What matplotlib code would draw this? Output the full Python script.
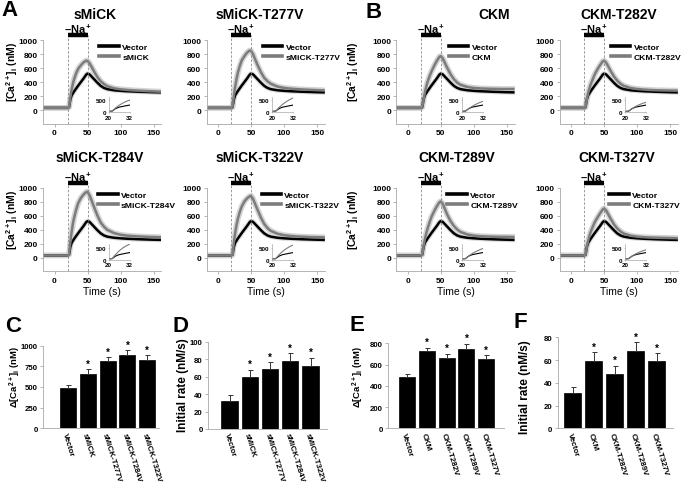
import numpy as np
import matplotlib
matplotlib.use("Agg")
import matplotlib.pyplot as plt

plt.rcParams['font.family'] = ['Liberation Sans', 'DejaVu Sans']
plt.rcParams['font.weight'] = 'bold'
plt.rcParams['mathtext.fontset'] = 'custom'
plt.rcParams['mathtext.rm'] = 'Liberation Sans:bold'
plt.rcParams['mathtext.bf'] = 'Liberation Sans:bold'
plt.rcParams['mathtext.it'] = 'Liberation Sans:bold'
plt.rcParams['mathtext.default'] = 'bf'

# ---- time courses (nM) ----
time = [-15, 0, 10, 20, 22, 24, 26, 28, 30, 33, 36, 40, 44, 48, 50, 53, 56, 60,
        65, 70, 75, 80, 90, 100, 110, 120, 130, 140, 150, 160]
vector = [30, 30, 30, 30, 40, 150, 210, 240, 270, 310, 350, 400, 450, 505, 520, 510,
          480, 440, 390, 345, 315, 298, 282, 274, 268, 264, 260, 257, 254, 252]
smick = [30, 30, 30, 30, 40, 180, 290, 380, 450, 530, 590, 640, 680, 705, 700, 670,
         620, 550, 470, 410, 370, 340, 310, 295, 287, 280, 275, 270, 266, 262]
smick_t277v = [30, 30, 30, 30, 40, 200, 330, 440, 530, 630, 710, 770, 820, 850, 845, 800,
               730, 640, 540, 460, 410, 375, 335, 315, 305, 298, 292, 288, 284, 280]
smick_t284v = [30, 30, 30, 30, 40, 220, 370, 490, 580, 690, 780, 850, 900, 935, 940, 890,
               820, 720, 600, 500, 440, 395, 350, 325, 312, 305, 300, 295, 292, 290]
smick_t322v = [30, 30, 30, 30, 40, 210, 350, 460, 550, 650, 730, 800, 845, 875, 880, 840,
               770, 680, 570, 480, 420, 380, 340, 318, 308, 300, 296, 292, 290, 288]
ckm = [30, 30, 30, 30, 40, 150, 250, 330, 400, 480, 550, 630, 700, 760, 770, 740,
       680, 600, 510, 440, 390, 360, 330, 315, 308, 304, 302, 300, 300, 300]
ckm_t282v = [30, 30, 30, 30, 40, 150, 240, 310, 370, 440, 510, 580, 640, 695, 705, 680,
             630, 560, 480, 420, 375, 345, 315, 300, 292, 286, 282, 280, 278, 276]
ckm_t289v = [30, 30, 30, 30, 40, 160, 260, 340, 410, 500, 580, 660, 730, 790, 800, 770,
             700, 610, 520, 450, 400, 365, 330, 312, 304, 300, 297, 295, 294, 293]
ckm_t327v = [30, 30, 30, 30, 40, 150, 240, 310, 370, 440, 505, 570, 630, 685, 700, 675,
             625, 555, 475, 415, 372, 342, 312, 298, 290, 285, 282, 280, 278, 276]
stim_on, stim_off = 20, 50

# ---- bar charts ----
smick_labels = ['Vector', 'sMiCK', 'sMiCK-T277V', 'sMiCK-T284V', 'sMiCK-T322V']
c_vals = [490, 660, 810, 890, 830]
c_err = [40, 55, 50, 55, 55]
d_vals = [32, 59, 68.5, 78, 72.5]
d_err = [7.5, 9, 8, 9, 9]
ckm_labels = ['Vector', 'CKM', 'CKM-T282V', 'CKM-T289V', 'CKM-T327V']
e_vals = [480, 728, 662, 748, 652]
e_err = [28, 30, 38, 48, 35]
f_vals = [31, 59, 47.8, 68.3, 59]
f_err = [5, 8, 7, 7.5, 7]

W, H = 685, 489
fig = plt.figure(figsize=(W / 100, H / 100), dpi=100)
GRAY_SPINE = '#a8a8a8'


def add_axes_px(x0, y0, sx, sy, xlim, ylim):
    left = x0 + xlim[0] * sx
    right = x0 + xlim[1] * sx
    bottom = y0 - ylim[0] * sy
    top = y0 - ylim[1] * sy
    ax = fig.add_axes([left / W, 1 - bottom / H, (right - left) / W, (bottom - top) / H])
    ax.set_xlim(xlim)
    ax.set_ylim(ylim)
    for s in ['top', 'right']:
        ax.spines[s].set_visible(False)
    for s in ['left', 'bottom']:
        ax.spines[s].set_color(GRAY_SPINE)
        ax.spines[s].set_linewidth(0.6)
    ax.patch.set_alpha(0)
    return ax


def ftext(x, y, s, **kw):
    return fig.text(x / W, 1 - y / H, s, **kw)


def curve_panel(x0, y0, name, values, show_xlabel, leg_x):
    ax = add_axes_px(x0, y0, 0.66, 0.07, (-17, 162), (-195, 1000))
    ax.plot(time, vector, color='#d8d8d8', lw=3.4)
    ax.plot(time, values, color='#d4d4d4', lw=4.2)
    ax.plot(time, vector, color='black', lw=1.8, label='Vector')
    ax.plot(time, values, color='#7c7c7c', lw=1.8, label=name)
    for t in (stim_on, stim_off):
        ax.plot([t, t], [-195, 1065], ls=(0, (3, 2)), color='#8a8a8a', lw=0.6, clip_on=False)
    ax.plot([stim_on, stim_off], [1070, 1070], color='black', lw=3.2,
            solid_capstyle='butt', clip_on=False)
    ax.text((stim_on + stim_off) / 2, 1100, '\u2013Na$^+$', ha='center', va='baseline',
            fontsize=8, clip_on=False)
    ax.set_xticks([0, 50, 100, 150])
    ax.set_yticks(range(0, 1001, 200))
    ax.tick_params(length=2, width=0.5, color='#999999', labelsize=6, pad=2)
    leg = ax.legend(loc='upper left', bbox_to_anchor=(leg_x, 950), bbox_transform=ax.transData,
                    frameon=False, fontsize=6.1, handlelength=2.3, handletextpad=0.4,
                    labelspacing=0.2, borderpad=0, borderaxespad=0)
    for h in leg.get_lines():
        h.set_linewidth(2.6)
    if show_xlabel:
        ax.set_xlabel('Time (s)', fontsize=7.5, labelpad=2)
    # inset: initial rise
    ins = ax.inset_axes([82, -30, 32, 220], transform=ax.transData)
    ins.plot(time, vector, color='black', lw=0.8)
    ins.plot(time, values, color='#7c7c7c', lw=0.8)
    ins.set_xlim(20, 32)
    ins.set_ylim(0, 650)
    ins.set_xticks([20, 32])
    ins.set_yticks([0, 500])
    ins.tick_params(length=1, width=0.4, color='#999999', labelsize=4.5, pad=1)
    for s in ['top', 'right']:
        ins.spines[s].set_visible(False)
    for s in ['left', 'bottom']:
        ins.spines[s].set_color(GRAY_SPINE)
        ins.spines[s].set_linewidth(0.5)
    ins.patch.set_alpha(0)
    return ax


curve_specs = [
    (54.5, 111, 'sMiCK', smick, (95, 15), False, 68),
    (218.0, 111, 'sMiCK-T277V', smick_t277v, (260, 15), False, 68),
    (407.7, 111, 'CKM', ckm, (494, 15), False, 62),
    (571.0, 111, 'CKM-T282V', ckm_t282v, (619, 15), False, 60),
    (54.5, 258.5, 'sMiCK-T284V', smick_t284v, (100, 158), True, 66),
    (218.0, 258.5, 'sMiCK-T322V', smick_t322v, (260, 158), True, 66),
    (407.7, 258.5, 'CKM-T289V', ckm_t289v, (457, 158), True, 60),
    (571.0, 258.5, 'CKM-T327V', ckm_t327v, (617, 158), True, 58),
]
for x0, y0, name, vals, (tx, ty), xl, lx in curve_specs:
    curve_panel(x0, y0, name, vals, xl, lx)
    ftext(tx, ty, name, ha='center', va='center', fontsize=10)

ca_label = '[Ca$^{2+}$]$_i$ (nM)'
for x, y in [(12, 72), (12, 220), (353, 72), (353, 220)]:
    ftext(x, y, ca_label, rotation=90, ha='center', va='center', fontsize=7.5)


def bar_panel(x0, y0, sx, sy, xlim, ylim, yticks, labels, vals, errs):
    ax = add_axes_px(x0, y0, sx, sy, xlim, ylim)
    pos = np.arange(len(vals))
    ax.bar(pos, vals, width=0.8, color='black', edgecolor='black', linewidth=0.5)
    ax.errorbar(pos, vals, yerr=[np.zeros(len(errs)), errs], fmt='none', ecolor='#333333',
                elinewidth=0.7, capsize=1.8, capthick=0.7)
    for p, v, e in zip(pos[1:], vals[1:], errs[1:]):
        ax.annotate('*', (p, v + e), xytext=(0, 0.5), textcoords='offset points',
                    ha='center', va='bottom', fontsize=7)
    ax.set_yticks(yticks)
    ax.set_xticks(pos)
    ax.set_xticklabels(labels, rotation=-73, ha='left', va='top', rotation_mode='anchor',
                       fontsize=5.8)
    ax.tick_params(axis='y', length=2, width=0.5, color='#999999', labelsize=5.6, pad=2)
    ax.tick_params(axis='x', length=0, pad=2)
    return ax


bar_panel(68, 429.3, 19.8, 0.0826, (-1.25, 4.6), (0, 1000), range(0, 1001, 250),
          smick_labels, c_vals, c_err)
bar_panel(229.5, 430, 20.25, 0.873, (-1.05, 4.8), (0, 100), range(0, 101, 20),
          smick_labels, d_vals, d_err)
bar_panel(407, 429.3, 19.8, 0.10625, (-0.95, 4.9), (0, 800), range(0, 801, 200),
          ckm_labels, e_vals, e_err)
bar_panel(572.5, 429.3, 21, 1.1375, (-0.7, 4.8), (0, 80), range(0, 81, 20),
          ckm_labels, f_vals, f_err)

ftext(15, 377, '\u0394[Ca$^{2+}$]$_i$ (nM)', rotation=90, ha='center', va='center', fontsize=6.8)
ftext(183, 385, 'Initial rate (nM/s)', rotation=90, ha='center', va='center', fontsize=8.5)
ftext(358, 377, '\u0394[Ca$^{2+}$]$_i$ (nM)', rotation=90, ha='center', va='center', fontsize=6.8)
ftext(525, 387, 'Initial rate (nM/s)', rotation=90, ha='center', va='center', fontsize=8.5)

for letter, x, y in [('A', 10, 11), ('B', 374, 13), ('C', 13, 327), ('D', 181, 327),
                     ('E', 357, 326), ('F', 520, 322)]:
    ftext(x, y, letter, ha='center', va='center', fontsize=16)

fig.savefig('out.png', dpi=100)
